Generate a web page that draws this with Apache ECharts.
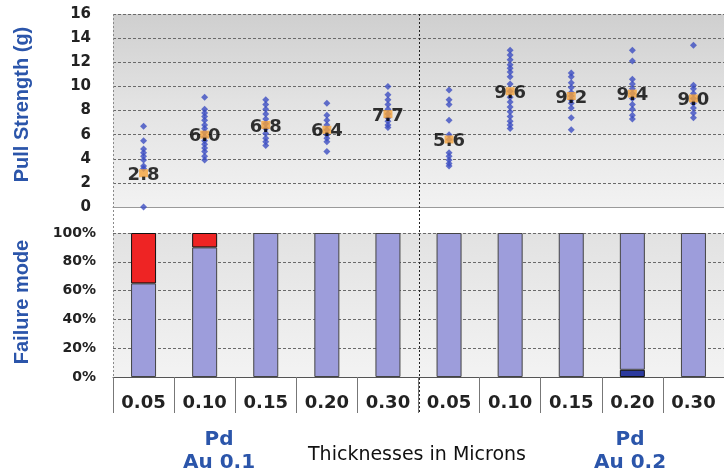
<!DOCTYPE html>
<html><head><meta charset="utf-8">
<script src="https://cdn.jsdelivr.net/npm/echarts@6/dist/echarts.min.js"></script>
<style>html,body{margin:0;padding:0;background:#fff}#c{width:724px;height:476px}</style>
</head><body><div id="c"></div>
<script>
// ---- data ----
const categories = ['0.05','0.10','0.15','0.20','0.30','0.05','0.10','0.15','0.20','0.30'];
const au01_005 = [6.7, 5.5, 4.8, 4.5, 4.2, 3.9, 3.4, 3.2, 0.0];
const au01_010 = [9.1, 8.1, 7.8, 7.5, 7.2, 6.8, 6.5, 6.2, 5.8, 5.5, 5.2, 4.9, 4.6, 4.2, 3.9];
const au01_015 = [8.9, 8.5, 8.1, 7.7, 7.3, 6.9, 6.5, 6.1, 5.7, 5.4, 5.1];
const au01_020 = [8.6, 7.6, 7.2, 6.8, 6.4, 6.0, 5.7, 5.4, 4.6];
const au01_030 = [10.0, 9.3, 8.9, 8.5, 8.1, 7.7, 7.4, 7.1, 6.8, 6.6];
const au02_005 = [9.7, 8.9, 8.5, 7.2, 6.0, 5.6, 4.5, 4.2, 3.9, 3.6, 3.4];
const au02_010 = [13.0, 12.6, 12.2, 11.8, 11.5, 11.2, 10.8, 10.2, 9.6, 9.1, 8.7, 8.3, 7.9, 7.5, 7.1, 6.8, 6.5];
const au02_015 = [11.1, 10.8, 10.3, 9.9, 9.5, 9.2, 8.9, 8.6, 8.2, 7.4, 6.4];
const au02_020 = [13.0, 12.1, 10.6, 10.2, 9.8, 9.4, 9.0, 8.5, 8.1, 7.6, 7.3];
const au02_030 = [13.4, 10.1, 9.8, 9.4, 9.0, 8.6, 8.2, 7.8, 7.4];
const meanStrength = [2.8, 6.0, 6.8, 6.4, 7.7, 5.6, 9.6, 9.2, 9.4, 9.0];
const failDark = [0, 0, 0, 0, 0, 0, 0, 0, 5, 0];
const failMain = [65, 90, 100, 100, 100, 100, 100, 100, 95, 100];
const failRed  = [35, 10, 0, 0, 0, 0, 0, 0, 0, 0];
const groupLabels = ['Pd\nAu 0.1', 'Pd\nAu 0.2'];
const xTitle = 'Thicknesses in Microns';
const groupDivider = 4.5;   // boundary between the two groups, in category units
const leftEdge = -0.5;      // left boundary of the first category

const clusters = [au01_005, au01_010, au01_015, au01_020, au01_030, au02_005, au02_010, au02_015, au02_020, au02_030];
const scatterData = [];
clusters.forEach((arr, i) => arr.forEach(v => scatterData.push([i, v])));
const meanData = meanStrength.map((v, i) => [i, v]);
const nz = a => a.map(v => v === 0 ? '-' : v);

const blue = '#2b55aa';
const numFont = 'DejaVu Sans';
const tickLen = 36;
const gridLine = { show: true, lineStyle: { color: '#6a6a6a', type: [3, 2], width: 1 } };

const chart = echarts.init(document.getElementById('c'), null, { renderer: 'canvas' });
chart.setOption({
  animation: false,
  backgroundColor: '#ffffff',
  grid: [
    { left: 113, right: -3, top: 14, height: 193, show: true, borderWidth: 0,
      backgroundColor: { type: 'linear', x: 0, y: 0, x2: 0, y2: 1,
        colorStops: [{ offset: 0, color: '#cfcfcf' }, { offset: 0.45, color: '#e2e2e2' }, { offset: 1, color: '#f2f2f2' }] } },
    { left: 113, right: -3, top: 233, height: 144, show: true, borderWidth: 0,
      backgroundColor: { type: 'linear', x: 0, y: 0, x2: 0, y2: 1,
        colorStops: [{ offset: 0, color: '#e2e2e2' }, { offset: 1, color: '#f3f3f3' }] } }
  ],
  xAxis: [
    { type: 'category', gridIndex: 0, data: categories, boundaryGap: true,
      axisLabel: { show: false }, axisTick: { show: false },
      axisLine: { show: true, onZero: false, lineStyle: { color: '#9a9a9a', width: 1 } },
      splitLine: { show: false } },
    { type: 'category', gridIndex: 1, data: categories, boundaryGap: true,
      axisLine: { show: true, onZero: false, lineStyle: { color: '#555', width: 1 } },
      axisTick: { show: true, interval: 0, length: tickLen, lineStyle: { color: '#777', width: 1 } },
      axisLabel: { interval: 0, margin: 17, fontFamily: numFont, fontWeight: 'bold', fontSize: 18, color: '#222' },
      splitLine: { show: false } },
    { type: 'value', gridIndex: 0, min: -0.5, max: 9.5, show: false, splitLine: { show: false } }
  ],
  yAxis: [
    { type: 'value', gridIndex: 0, min: 0, max: 16, interval: 2,
      name: 'Pull Strength (g)', nameLocation: 'middle', nameGap: 81, nameRotate: 90,
      nameTextStyle: { color: blue, fontFamily: 'Liberation Sans', fontWeight: 'bold', fontSize: 20, padding: [0, 0, 0, 12] },
      axisLine: { show: false, onZero: false },
      axisTick: { show: false },
      axisLabel: { margin: 22, fontFamily: numFont, fontWeight: 'bold', fontSize: 15, color: '#222' },
      splitLine: gridLine },
    { type: 'value', gridIndex: 1, min: 0, max: 100, interval: 20,
      name: 'Failure mode', nameLocation: 'middle', nameGap: 81, nameRotate: 90,
      nameTextStyle: { color: blue, fontFamily: 'Liberation Sans', fontWeight: 'bold', fontSize: 20, padding: [0, 0, 0, 6] },
      axisLine: { show: false, onZero: false },
      axisTick: { show: false },
      axisLabel: { margin: 17, formatter: '{value}%', fontFamily: numFont, fontWeight: 'bold', fontSize: 14, color: '#222' },
      splitLine: gridLine }
  ],
  series: [
    { type: 'scatter', xAxisIndex: 0, yAxisIndex: 0, data: scatterData,
      symbol: 'diamond', symbolSize: 7, itemStyle: { color: '#3c4ec2' }, z: 3 },
    { type: 'scatter', xAxisIndex: 0, yAxisIndex: 0, data: meanData,
      symbol: 'rect', symbolSize: [9, 8], itemStyle: { color: '#f5a33a' }, z: 4,
      label: { show: true, position: 'inside', offset: [0, 2],
        formatter: p => p.value[1].toFixed(1), textBorderWidth: 0,
        fontFamily: numFont, fontWeight: 'bold', fontSize: 18, color: '#000' } },
    { type: 'bar', xAxisIndex: 1, yAxisIndex: 1, stack: 'f', barWidth: 25, data: nz(failDark),
      itemStyle: { color: '#2c3a9e', borderColor: '#111', borderWidth: 1 } },
    { type: 'bar', xAxisIndex: 1, yAxisIndex: 1, stack: 'f', barWidth: 25, data: nz(failMain),
      itemStyle: { color: '#9d9ddb', borderColor: '#444', borderWidth: 1 } },
    { type: 'bar', xAxisIndex: 1, yAxisIndex: 1, stack: 'f', barWidth: 25, data: nz(failRed),
      itemStyle: { color: '#ee2424', borderColor: '#111', borderWidth: 1 } }
  ]
});

// vertical rules positioned through the library's own scales
const px = v => Math.round(chart.convertToPixel({ xAxisIndex: 2 }, v)) + 0.5;
const xDiv = px(groupDivider);
const xLeft = px(leftEdge);
const yTop = chart.convertToPixel({ yAxisIndex: 0 }, 16);
const yBot = chart.convertToPixel({ yAxisIndex: 1 }, 0);

chart.setOption({
  graphic: [
    { id: 'g1', type: 'text', style: { text: groupLabels[0], x: 219, y: 428, textAlign: 'center',
      fill: blue, font: 'bold 20px "DejaVu Sans"', lineHeight: 23 } },
    { id: 'g2', type: 'text', style: { text: groupLabels[1], x: 630, y: 428, textAlign: 'center',
      fill: blue, font: 'bold 20px "DejaVu Sans"', lineHeight: 23 } },
    { id: 'xt', type: 'text', style: { text: xTitle, x: 417, y: 446, textAlign: 'center',
      fill: '#111', font: '19px "DejaVu Sans"' } },
    { id: 'divider', type: 'line', silent: true, z: 100,
      shape: { x1: xDiv, y1: yTop, x2: xDiv, y2: yBot + tickLen },
      style: { stroke: '#222', lineWidth: 1, lineDash: [2, 2] } },
    { id: 'leftEdge', type: 'line', silent: true, z: 100,
      shape: { x1: xLeft, y1: yTop, x2: xLeft, y2: yBot },
      style: { stroke: '#8a8a8a', lineWidth: 1, lineDash: [2, 2] } }
  ]
});
</script></body></html>
